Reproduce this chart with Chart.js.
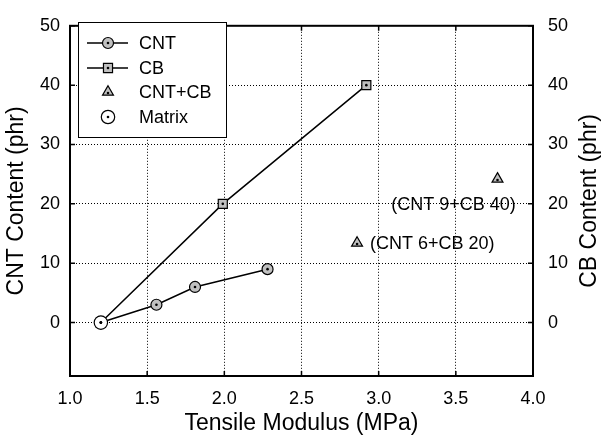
<!DOCTYPE html>
<html>
<head>
<meta charset="utf-8">
<script src="https://cdn.jsdelivr.net/npm/chart.js@4/dist/chart.umd.min.js"></script>
<style>
  html, body { margin: 0; padding: 0; background: #fff; }
  #wrap { width: 605px; height: 446px; }
</style>
</head>
<body>
<div id="wrap"><canvas id="chart"></canvas></div>
<script>
// ── DATOS ──
const matrixModulus = [1.2];
const matrixContent = [0];
const cntModulus = [1.2, 1.56, 1.81, 2.28];
const cntContent = [0, 3, 6, 9];
const cbModulus = [1.2, 1.99, 2.92];
const cbContent = [0, 20, 40];
const hybridModulus = [2.86, 3.77];
const hybridContent = [13.4, 24.2];
const hybridLabels = ['(CNT 6+CB 20)', '(CNT 9+CB 40)'];

const xTicks = [1.0, 1.5, 2.0, 2.5, 3.0, 3.5, 4.0];
const yTicks = [0, 10, 20, 30, 40, 50];

const FONT = 'Liberation Sans, Arial, sans-serif';
const GRAY = '#c0c0c0';

const toPoints = (xs, ys) => xs.map((x, i) => ({ x: x, y: ys[i] }));

// ── MARCADORES ──
function marker(ctx, style, x, y, r, fill) {
  ctx.save();
  ctx.fillStyle = fill;
  ctx.strokeStyle = '#000';
  ctx.lineWidth = 1.2;
  ctx.beginPath();
  if (style === 'rect') {
    const s = r * Math.SQRT1_2;
    ctx.rect(x - s, y - s, 2 * s, 2 * s);
  } else if (style === 'triangle') {
    ctx.moveTo(x, y - r);
    ctx.lineTo(x + r * 0.866, y + r * 0.5);
    ctx.lineTo(x - r * 0.866, y + r * 0.5);
    ctx.closePath();
  } else {
    ctx.arc(x, y, r, 0, Math.PI * 2);
  }
  ctx.fill();
  ctx.stroke();
  ctx.fillStyle = '#000';
  ctx.beginPath();
  ctx.arc(x, style === 'triangle' ? y + 1 : y, 1.3, 0, Math.PI * 2);
  ctx.fill();
  ctx.restore();
}

// ── PLUGIN: marco, ticks internos, puntos centrales, textos, leyenda ──
const decoPlugin = {
  id: 'deco',
  afterDatasetsDraw(chart) {
    const ctx = chart.ctx;
    const a = chart.chartArea;
    const sx = chart.scales.x, sy = chart.scales.y;

    // puntos centrales sobre los marcadores
    chart.data.datasets.forEach((ds, i) => {
      const meta = chart.getDatasetMeta(i);
      meta.data.forEach(el => {
        ctx.save();
        ctx.fillStyle = '#000';
        ctx.beginPath();
        ctx.arc(el.x, ds.pointStyle === 'triangle' ? el.y + 1 : el.y, 1.3, 0, Math.PI * 2);
        ctx.fill();
        ctx.restore();
      });
    });

    // etiquetas de las muestras híbridas
    const hyb = chart.getDatasetMeta(3).data;
    ctx.save();
    ctx.font = '18px ' + FONT;
    ctx.fillStyle = '#000';
    ctx.textBaseline = 'middle';
    ctx.textAlign = 'left';
    ctx.fillText(hybridLabels[0], hyb[0].x + 13, hyb[0].y + 1);
    ctx.textAlign = 'center';
    ctx.fillText(hybridLabels[1], hyb[1].x - 44, hyb[1].y + 26);
    ctx.restore();

    // marco
    ctx.save();
    ctx.strokeStyle = '#000';
    ctx.lineWidth = 2;
    ctx.strokeRect(a.left, a.top, a.right - a.left, a.bottom - a.top);

    // ticks hacia dentro
    ctx.lineWidth = 1.5;
    ctx.beginPath();
    xTicks.forEach(v => {
      const px = sx.getPixelForValue(v);
      ctx.moveTo(px, a.bottom); ctx.lineTo(px, a.bottom - 5);
      ctx.moveTo(px, a.top); ctx.lineTo(px, a.top + 5);
    });
    yTicks.forEach(v => {
      const py = sy.getPixelForValue(v);
      ctx.moveTo(a.left, py); ctx.lineTo(a.left + 5, py);
      ctx.moveTo(a.right, py); ctx.lineTo(a.right - 5, py);
    });
    ctx.stroke();
    ctx.restore();

    // leyenda
    const lx = 78, ly = 22, lw = 148, lh = 115;
    ctx.save();
    ctx.fillStyle = '#fff';
    ctx.fillRect(lx, ly, lw, lh);
    ctx.strokeStyle = '#000';
    ctx.lineWidth = 1;
    ctx.strokeRect(lx + 0.5, ly + 0.5, lw, lh);
    const items = [
      { text: 'CNT', style: 'circle', r: 5.5, fill: GRAY, line: true, y: 43 },
      { text: 'CB', style: 'rect', r: 6.4, fill: GRAY, line: true, y: 68 },
      { text: 'CNT+CB', style: 'triangle', r: 6.3, fill: GRAY, line: false, y: 92 },
      { text: 'Matrix', style: 'circle', r: 6.7, fill: '#fff', line: false, y: 117 }
    ];
    ctx.font = '18px ' + FONT;
    ctx.textBaseline = 'middle';
    items.forEach(it => {
      if (it.line) {
        ctx.strokeStyle = '#000';
        ctx.lineWidth = 1.5;
        ctx.beginPath();
        ctx.moveTo(87, it.y); ctx.lineTo(128, it.y);
        ctx.stroke();
      }
      marker(ctx, it.style, 108, it.y, it.r, it.fill);
      ctx.fillStyle = '#000';
      ctx.fillText(it.text, 139, it.y + 1);
    });
    ctx.restore();

    // título eje derecho (de abajo hacia arriba)
    ctx.save();
    ctx.translate(590, (a.top + a.bottom) / 2);
    ctx.rotate(-Math.PI / 2);
    ctx.font = '23px ' + FONT;
    ctx.fillStyle = '#000';
    ctx.textAlign = 'center';
    ctx.textBaseline = 'middle';
    ctx.fillText('CB Content (phr)', 0, 0);
    ctx.restore();
  }
};

const setTicks = vals => scale => { scale.ticks = vals.map(v => ({ value: v })); };
const gridColor = edgeVals => c => (edgeVals.includes(c.tick && c.tick.value) ? 'rgba(0,0,0,0)' : '#000');

new Chart(document.getElementById('chart'), {
  type: 'scatter',
  data: {
    datasets: [
      {
        label: 'CNT',
        data: toPoints(cntModulus, cntContent),
        showLine: true,
        borderColor: '#000',
        borderWidth: 1.5,
        pointStyle: 'circle',
        pointRadius: 5.5,
        pointBackgroundColor: GRAY,
        pointBorderColor: '#000',
        pointBorderWidth: 1.2,
        order: 2
      },
      {
        label: 'CB',
        data: toPoints(cbModulus, cbContent),
        showLine: true,
        borderColor: '#000',
        borderWidth: 1.5,
        pointStyle: 'rect',
        pointRadius: 6.4,
        pointBackgroundColor: GRAY,
        pointBorderColor: '#000',
        pointBorderWidth: 1.2,
        order: 3
      },
      {
        label: 'Matrix',
        data: toPoints(matrixModulus, matrixContent),
        pointStyle: 'circle',
        pointRadius: 6.7,
        pointBackgroundColor: '#fff',
        pointBorderColor: '#000',
        pointBorderWidth: 1.2,
        order: 0
      },
      {
        label: 'CNT+CB',
        data: toPoints(hybridModulus, hybridContent),
        pointStyle: 'triangle',
        pointRadius: 6.3,
        pointBackgroundColor: GRAY,
        pointBorderColor: '#000',
        pointBorderWidth: 1.2,
        order: 1
      }
    ]
  },
  options: {
    responsive: true,
    maintainAspectRatio: false,
    animation: false,
    layout: { padding: { top: 15, left: 0, right: 0, bottom: 0 } },
    plugins: { legend: { display: false }, tooltip: { enabled: false } },
    scales: {
      x: {
        type: 'linear',
        position: 'bottom',
        min: 1.0,
        max: 4.0,
        afterBuildTicks: setTicks(xTicks),
        afterFit: s => { s.height = 70; },
        grid: { color: gridColor([1.0, 4.0]), lineWidth: 1, drawTicks: false },
        border: { display: false, dash: [1, 2] },
        ticks: {
          color: '#000',
          padding: 12,
          font: { family: FONT, size: 18 },
          callback: v => v.toFixed(1)
        },
        title: {
          display: true,
          text: 'Tensile Modulus (MPa)',
          color: '#000',
          font: { family: FONT, size: 23 },
          padding: { top: 0, bottom: 9 }
        }
      },
      y: {
        type: 'linear',
        position: 'left',
        min: -9,
        max: 50,
        afterBuildTicks: setTicks(yTicks),
        afterFit: s => { s.width = 70; },
        grid: { color: gridColor([50]), lineWidth: 1, drawTicks: false },
        border: { display: false, dash: [1, 2] },
        ticks: {
          color: '#000',
          padding: 10,
          font: { family: FONT, size: 18 }
        },
        title: {
          display: true,
          text: 'CNT Content (phr)',
          color: '#000',
          font: { family: FONT, size: 23 },
          padding: { top: 3, bottom: 0 }
        }
      },
      y2: {
        type: 'linear',
        position: 'right',
        min: -9,
        max: 50,
        afterBuildTicks: setTicks(yTicks),
        afterFit: s => { s.width = 72; },
        grid: { display: false, drawTicks: false },
        border: { display: false },
        ticks: {
          color: '#000',
          padding: 15,
          font: { family: FONT, size: 18 }
        }
      }
    }
  },
  plugins: [decoPlugin]
});
</script>
</body>
</html>
